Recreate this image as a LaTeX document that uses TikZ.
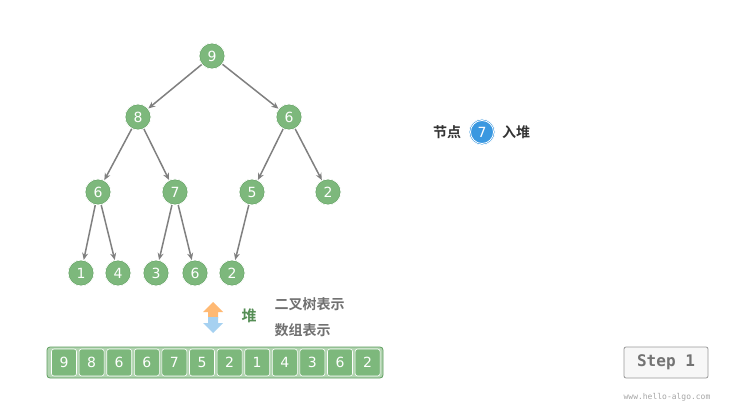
\documentclass[tikz,border=0pt]{standalone}
\usepackage{fontspec}
\setmainfont{DejaVu Sans}
\setmonofont{DejaVu Sans Mono}
\newfontfamily\cjk{Noto Sans CJK SC}[BoldFont={Noto Sans CJK SC Bold}]
\usetikzlibrary{arrows.meta}
\definecolor{ngreen}{HTML}{7DB87C}
\definecolor{nbord}{HTML}{5E9E5E}
\definecolor{nblue}{HTML}{3A98E0}
\definecolor{egray}{HTML}{808080}
\definecolor{tgray}{HTML}{707070}
\begin{document}
\begin{tikzpicture}[x=1pt,y=-1pt,
  tn/.style={circle,fill=ngreen,draw=white,line width=0.8pt,minimum size=26pt,inner sep=0pt,text=white,font=\fontsize{14}{14}\selectfont,
    path picture={\draw[nbord,line width=1pt] (path picture bounding box.center) circle (12.6pt);}},
  bn/.style={tn,fill=nblue,path picture={\draw[white,line width=0.8pt] (path picture bounding box.center) circle (11.5pt);}},
  ed/.style={-{Stealth[length=7pt,width=6pt]},egray,line width=1.5pt},
  cell/.style={rectangle,rounded corners=2.5pt,fill=ngreen,draw=white,line width=0.6pt,minimum width=25pt,minimum height=27pt,inner sep=0pt,text=white,font=\fontsize{14}{14}\selectfont},
  lab/.style={font=\cjk\bfseries\fontsize{14}{14}\selectfont,text=tgray}]
\useasboundingbox[fill=white] (0,0) rectangle (736,406);
\node[tn] (a) at (212,56) {9};
\node[tn] (b) at (138,117) {8};
\node[tn] (c) at (289,117) {6};
\node[tn] (d) at (98,192) {6};
\node[tn] (e) at (175,192) {7};
\node[tn] (f) at (252,192) {5};
\node[tn] (g) at (328,192) {2};
\node[tn] (h) at (81,273) {1};
\node[tn] (i) at (118,273) {4};
\node[tn] (j) at (156,273) {3};
\node[tn] (k) at (195,273) {6};
\node[tn] (l) at (232,273) {2};
\foreach \p/\q in {a/b,a/c,b/d,b/e,c/f,c/g,d/h,d/i,e/j,e/k,f/l} \draw[ed] (\p) -- (\q);
\node[font=\cjk\bfseries\fontsize{14}{14}\selectfont,text=black!80] (t1) at (447,132) {节点};
\node[bn] (nn) at (482,132) {7};
\node[font=\cjk\bfseries\fontsize{14}{14}\selectfont,text=black!80] (t2) at (516,132) {入堆};
\fill[orange!55!white] (213,302) -- (223,312) -- (218,312) -- (218,318) -- (208,318) -- (208,312) -- (203,312) -- cycle;
\fill[nblue!45!white] (213,333) -- (223,323) -- (218,323) -- (218,317) -- (208,317) -- (208,323) -- (203,323) -- cycle;
\node[font=\cjk\bfseries\fontsize{15}{15}\selectfont,text=nbord!90!black] (heap) at (249,316) {堆};
\node[lab,anchor=west] (l1) at (271,304) {二叉树表示};
\node[lab,anchor=west] (l2) at (271,330) {数组表示};
\draw[nbord,fill=ngreen!60!white,rounded corners=3pt,line width=0.8pt] (47,347) rectangle (383,378);
\foreach \v [count=\n from 0] in {9,8,6,6,7,5,2,1,4,3,6,2}
  \node[cell] (c\n) at (64+27.6*\n,362.5) {\v};
\node[draw=black!40,fill=black!3,rounded corners=2pt,line width=0.8pt,minimum width=84pt,minimum height=31pt,font=\ttfamily\bfseries\fontsize{16}{16}\selectfont,text=black!55] (step1) at (666,362.5) {Step 1};
\node[font=\ttfamily\fontsize{8}{8}\selectfont,text=black!35] (url) at (667,397) {www.hello-algo.com};
\end{tikzpicture}
\end{document}
